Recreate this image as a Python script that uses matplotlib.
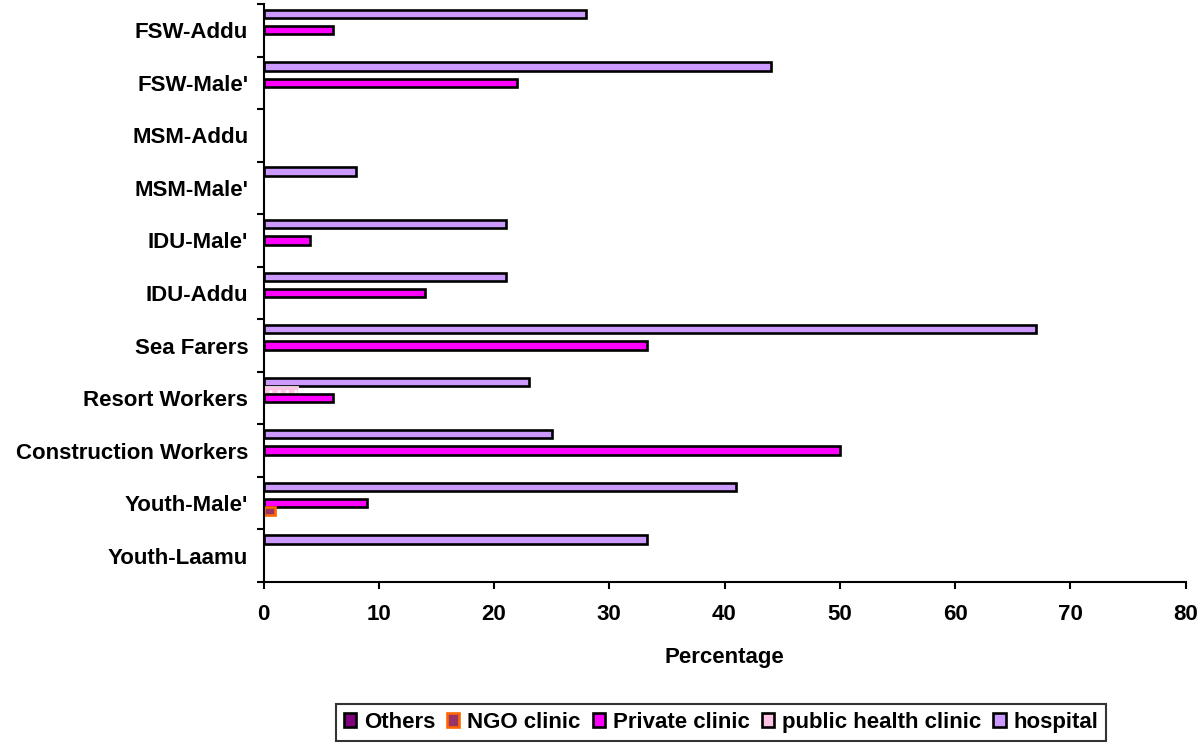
import matplotlib
matplotlib.use("Agg")
import matplotlib.pyplot as plt
from matplotlib.patches import Patch
import numpy as np

categories = ["Youth-Laamu", "Youth-Male'", "Construction Workers", "Resort Workers",
              "Sea Farers", "IDU-Addu", "IDU-Male'", "MSM-Male'", "MSM-Addu",
              "FSW-Male'", "FSW-Addu"]
hospital = [33.3, 41, 25, 23, 67, 21, 21, 8, 0, 44, 28]
public_health = [0, 0, 0, 3, 0, 0, 0, 0, 0, 0, 0]
private_clinic = [0, 9, 50, 6, 33.3, 14, 4, 0, 0, 22, 6]
ngo_clinic = [0, 1, 0, 0, 0, 0, 0, 0, 0, 0, 0]
others = [0, 0, 0, 0, 0, 0, 0, 0, 0, 0, 0]
xticks = [0, 10, 20, 30, 40, 50, 60, 70, 80]

plt.rcParams['font.family'] = ['Liberation Sans', 'DejaVu Sans']
plt.rcParams['font.weight'] = 'bold'
FS = 16

fig = plt.figure(figsize=(12.01, 7.45), dpi=100)
ax = fig.add_axes([263.5/1201, 1-582/745, 922/1201, 578/745])

y = np.arange(len(categories))
h = 0.158
LW = 1.9
styles = {
    'hospital': dict(facecolor='#CC99FF', edgecolor='black', linewidth=LW),
    'public health clinic': dict(facecolor='#FFC4E4', edgecolor='white', linewidth=0.5, hatch='..'),
    'Private clinic': dict(facecolor='#FF00FF', edgecolor='black', linewidth=LW),
    'NGO clinic': dict(facecolor='#993366', edgecolor='#FF6600', linewidth=LW),
    'Others': dict(facecolor='#800080', edgecolor='black', linewidth=LW),
}
series = [
    (hospital, 0.31, 'hospital'),
    (public_health, 0.155, 'public health clinic'),
    (private_clinic, 0.0, 'Private clinic'),
    (ngo_clinic, -0.155, 'NGO clinic'),
    (others, -0.31, 'Others'),
]
for vals, off, lab in series:
    v = np.array(vals, dtype=float)
    bars = ax.barh(y + off, v, height=h, label=lab, **styles[lab])
    for b, val in zip(bars, v):
        if val == 0:
            b.set_visible(False)

ax.set_xlim(0, 80)
ax.set_ylim(-0.5, len(categories) - 0.5)
ax.set_xticks(xticks)
ax.set_xticklabels([str(t) for t in xticks], fontsize=FS, fontweight='bold')
ax.set_yticks(y)
ax.set_yticklabels(categories, fontsize=FS, fontweight='bold')
ax.set_yticks(np.arange(-0.5, len(categories), 1.0), minor=True)
ax.tick_params(axis='y', which='major', length=0, pad=11)
ax.tick_params(axis='y', which='minor', length=5, width=1.5, direction='out')
ax.tick_params(axis='x', which='major', length=5, width=1.5, direction='out', pad=11)
for s in ['top', 'right']:
    ax.spines[s].set_visible(False)
for s in ['left', 'bottom']:
    ax.spines[s].set_linewidth(1.5)

ax.set_xlabel('Percentage', fontsize=FS, fontweight='bold', labelpad=16)

order = ['Others', 'NGO clinic', 'Private clinic', 'public health clinic', 'hospital']
proxies = []
for k in order:
    st = dict(styles[k])
    if k == 'public health clinic':
        st = dict(facecolor='#FFC4E4', edgecolor='black', linewidth=LW)
    proxies.append(Patch(**st))
leg = fig.legend(proxies, order, loc='center',
                 bbox_to_anchor=(721/1201, 1-722.5/745), ncol=5, frameon=True,
                 fancybox=False, edgecolor='black',
                 handlelength=0.55, handleheight=0.55, handletextpad=0.35,
                 columnspacing=0.55, borderpad=0.35, borderaxespad=0,
                 prop={'weight': 'bold', 'size': FS})
leg.get_frame().set_linewidth(1.5)

fig.savefig('out.png', dpi=100)
